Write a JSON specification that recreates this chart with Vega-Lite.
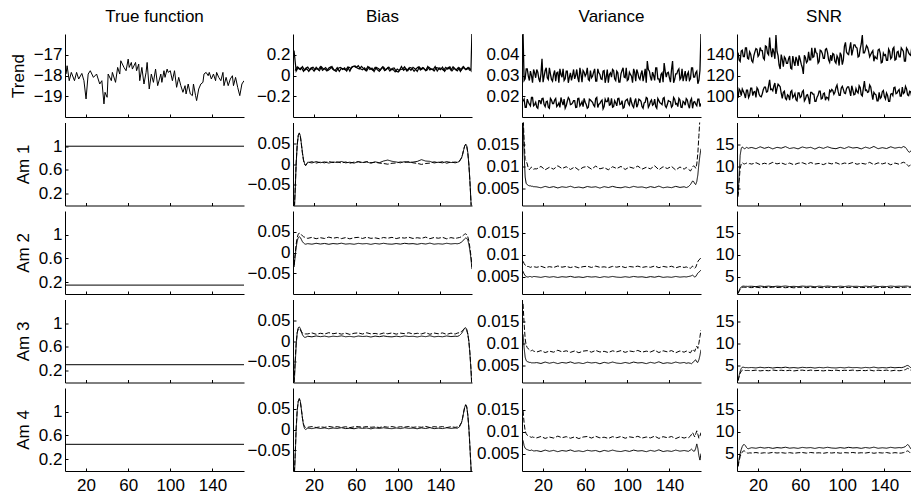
{
"$schema": "https://vega.github.io/schema/vega-lite/v6.json",
"padding": {"left": 9, "top": 8, "right": 0, "bottom": 0},
"config": {
  "view": {"stroke": null},
  "font": "Liberation Sans",
  "axis": {"grid": false, "domainColor": "#000", "tickColor": "#000", "labelColor": "#000", "titleColor": "#000", "labelFontSize": 17, "titleFontSize": 17, "titleFontWeight": "normal", "tickSize": -3, "labelPadding": 6, "labelFont": "Liberation Sans", "titleFont": "Liberation Sans", "titlePadding": 6},
  "axisX": {"labelPadding": 9},
  "title": {"fontSize": 17, "fontWeight": "normal", "font": "Liberation Sans", "color": "#000", "offset": 8},
  "line": {"color": "#000", "strokeWidth": 1}
},
"datasets": {
  "tf": [{"x":1,"y":-17.93},{"x":2,"y":-17.53},{"x":4,"y":-18.25},{"x":6,"y":-17.85},{"x":9,"y":-18.25},{"x":11,"y":-17.85},{"x":13,"y":-18.17},{"x":16,"y":-17.9},{"x":18,"y":-18.25},{"x":20,"y":-19.13},{"x":22,"y":-17.93},{"x":24,"y":-17.77},{"x":27,"y":-18.09},{"x":30,"y":-17.93},{"x":33,"y":-18.41},{"x":35,"y":-18.25},{"x":37,"y":-19.37},{"x":38,"y":-18.81},{"x":40,"y":-19.05},{"x":41,"y":-17.93},{"x":44,"y":-18.25},{"x":45,"y":-17.85},{"x":48,"y":-18.33},{"x":50,"y":-17.61},{"x":52,"y":-17.93},{"x":53,"y":-17.29},{"x":56,"y":-17.61},{"x":58,"y":-17.77},{"x":60,"y":-17.21},{"x":61,"y":-17.61},{"x":63,"y":-17.37},{"x":64,"y":-17.69},{"x":67,"y":-17.37},{"x":68,"y":-17.77},{"x":70,"y":-17.45},{"x":71,"y":-18.25},{"x":73,"y":-17.61},{"x":75,"y":-18.41},{"x":77,"y":-17.85},{"x":78,"y":-17.37},{"x":80,"y":-18.65},{"x":82,"y":-17.93},{"x":84,"y":-18.33},{"x":86,"y":-17.69},{"x":88,"y":-18.49},{"x":91,"y":-17.93},{"x":92,"y":-18.33},{"x":94,"y":-17.77},{"x":95,"y":-18.09},{"x":97,"y":-17.69},{"x":98,"y":-17.85},{"x":100,"y":-17.77},{"x":102,"y":-18.25},{"x":104,"y":-17.77},{"x":106,"y":-18.57},{"x":108,"y":-18.09},{"x":110,"y":-18.49},{"x":112,"y":-18.81},{"x":114,"y":-18.49},{"x":115,"y":-18.89},{"x":117,"y":-18.41},{"x":119,"y":-18.89},{"x":121,"y":-18.97},{"x":122,"y":-18.41},{"x":124,"y":-18.97},{"x":125,"y":-19.21},{"x":127,"y":-18.65},{"x":129,"y":-18.41},{"x":131,"y":-18.33},{"x":132,"y":-17.93},{"x":134,"y":-17.85},{"x":136,"y":-18.01},{"x":137,"y":-17.85},{"x":139,"y":-18.17},{"x":141,"y":-17.93},{"x":143,"y":-18.25},{"x":144,"y":-17.85},{"x":146,"y":-18.09},{"x":148,"y":-18.25},{"x":150,"y":-17.85},{"x":151,"y":-18.49},{"x":153,"y":-18.09},{"x":155,"y":-18.49},{"x":157,"y":-18.17},{"x":159,"y":-18.01},{"x":160,"y":-18.49},{"x":162,"y":-18.09},{"x":164,"y":-18.57},{"x":166,"y":-18.97},{"x":168,"y":-18.41},{"x":170,"y":-18.25}],
  "am": [{"x":0,"a1":1,"a2":0.15,"a3":0.3,"a4":0.45},{"x":170,"a1":1,"a2":0.15,"a3":0.3,"a4":0.45}],
  "tb": [{"x":1,"y":0.24,"s":"a"},{"x":3,"y":0.0426,"s":"a"},{"x":5,"y":0.0783,"s":"a"},{"x":7,"y":0.0579,"s":"a"},{"x":9,"y":0.086,"s":"a"},{"x":11,"y":0.0503,"s":"a"},{"x":13,"y":0.0656,"s":"a"},{"x":15,"y":0.04,"s":"a"},{"x":17,"y":0.0732,"s":"a"},{"x":19,"y":0.0809,"s":"a"},{"x":21,"y":0.0554,"s":"a"},{"x":23,"y":0.0681,"s":"a"},{"x":25,"y":0.0452,"s":"a"},{"x":27,"y":0.0834,"s":"a"},{"x":29,"y":0.0605,"s":"a"},{"x":31,"y":0.0758,"s":"a"},{"x":33,"y":0.0477,"s":"a"},{"x":35,"y":0.063,"s":"a"},{"x":37,"y":0.086,"s":"a"},{"x":39,"y":0.0528,"s":"a"},{"x":41,"y":0.04,"s":"a"},{"x":43,"y":0.0707,"s":"a"},{"x":45,"y":0.0783,"s":"a"},{"x":47,"y":0.0579,"s":"a"},{"x":49,"y":0.0732,"s":"a"},{"x":51,"y":0.0426,"s":"a"},{"x":53,"y":0.0809,"s":"a"},{"x":55,"y":0.0673,"s":"a"},{"x":57,"y":0.0851,"s":"a"},{"x":59,"y":0.092,"s":"a"},{"x":61,"y":0.0724,"s":"a"},{"x":63,"y":0.0622,"s":"a"},{"x":65,"y":0.088,"s":"a"},{"x":67,"y":0.0656,"s":"a"},{"x":69,"y":0.0477,"s":"a"},{"x":71,"y":0.086,"s":"a"},{"x":73,"y":0.0579,"s":"a"},{"x":75,"y":0.0707,"s":"a"},{"x":77,"y":0.0375,"s":"a"},{"x":79,"y":0.0783,"s":"a"},{"x":81,"y":0.0681,"s":"a"},{"x":83,"y":0.0528,"s":"a"},{"x":85,"y":0.0834,"s":"a"},{"x":87,"y":0.0477,"s":"a"},{"x":89,"y":0.063,"s":"a"},{"x":91,"y":0.0809,"s":"a"},{"x":93,"y":0.0554,"s":"a"},{"x":95,"y":0.0596,"s":"a"},{"x":97,"y":0.035,"s":"a"},{"x":99,"y":0.0622,"s":"a"},{"x":101,"y":0.0469,"s":"a"},{"x":103,"y":0.086,"s":"a"},{"x":105,"y":0.0503,"s":"a"},{"x":107,"y":0.0681,"s":"a"},{"x":109,"y":0.0452,"s":"a"},{"x":111,"y":0.0783,"s":"a"},{"x":113,"y":0.0707,"s":"a"},{"x":115,"y":0.04,"s":"a"},{"x":117,"y":0.0656,"s":"a"},{"x":119,"y":0.0834,"s":"a"},{"x":121,"y":0.0528,"s":"a"},{"x":123,"y":0.0758,"s":"a"},{"x":125,"y":0.0579,"s":"a"},{"x":127,"y":0.0477,"s":"a"},{"x":129,"y":0.0809,"s":"a"},{"x":131,"y":0.063,"s":"a"},{"x":133,"y":0.0554,"s":"a"},{"x":135,"y":0.086,"s":"a"},{"x":137,"y":0.0426,"s":"a"},{"x":139,"y":0.0732,"s":"a"},{"x":141,"y":0.0681,"s":"a"},{"x":143,"y":0.0503,"s":"a"},{"x":145,"y":0.0783,"s":"a"},{"x":147,"y":0.0605,"s":"a"},{"x":149,"y":0.0834,"s":"a"},{"x":151,"y":0.0452,"s":"a"},{"x":153,"y":0.0707,"s":"a"},{"x":155,"y":0.0528,"s":"a"},{"x":157,"y":0.0758,"s":"a"},{"x":159,"y":0.04,"s":"a"},{"x":161,"y":0.0809,"s":"a"},{"x":163,"y":0.0656,"s":"a"},{"x":165,"y":0.0579,"s":"a"},{"x":167,"y":0.0783,"s":"a"},{"x":169,"y":0.0477,"s":"a"},{"x":170,"y":0.45,"s":"a"},
    {"x":2,"y":0.0477,"s":"b"},{"x":4,"y":0.0834,"s":"b"},{"x":6,"y":0.0605,"s":"b"},{"x":8,"y":0.0758,"s":"b"},{"x":10,"y":0.04,"s":"b"},{"x":12,"y":0.0707,"s":"b"},{"x":14,"y":0.0809,"s":"b"},{"x":16,"y":0.0528,"s":"b"},{"x":18,"y":0.0681,"s":"b"},{"x":20,"y":0.0426,"s":"b"},{"x":22,"y":0.0783,"s":"b"},{"x":24,"y":0.0554,"s":"b"},{"x":26,"y":0.086,"s":"b"},{"x":28,"y":0.0503,"s":"b"},{"x":30,"y":0.0656,"s":"b"},{"x":32,"y":0.0452,"s":"b"},{"x":34,"y":0.0732,"s":"b"},{"x":36,"y":0.0834,"s":"b"},{"x":38,"y":0.0579,"s":"b"},{"x":40,"y":0.0477,"s":"b"},{"x":42,"y":0.0758,"s":"b"},{"x":44,"y":0.04,"s":"b"},{"x":46,"y":0.0707,"s":"b"},{"x":48,"y":0.063,"s":"b"},{"x":50,"y":0.0528,"s":"b"},{"x":52,"y":0.0809,"s":"b"},{"x":54,"y":0.0426,"s":"b"},{"x":56,"y":0.0851,"s":"b"},{"x":58,"y":0.09,"s":"b"},{"x":60,"y":0.0775,"s":"b"},{"x":62,"y":0.094,"s":"b"},{"x":64,"y":0.0647,"s":"b"},{"x":66,"y":0.0554,"s":"b"},{"x":68,"y":0.0732,"s":"b"},{"x":70,"y":0.0452,"s":"b"},{"x":72,"y":0.0834,"s":"b"},{"x":74,"y":0.0656,"s":"b"},{"x":76,"y":0.0503,"s":"b"},{"x":78,"y":0.0783,"s":"b"},{"x":80,"y":0.0579,"s":"b"},{"x":82,"y":0.04,"s":"b"},{"x":84,"y":0.0707,"s":"b"},{"x":86,"y":0.0809,"s":"b"},{"x":88,"y":0.0528,"s":"b"},{"x":90,"y":0.0758,"s":"b"},{"x":92,"y":0.0426,"s":"b"},{"x":94,"y":0.0681,"s":"b"},{"x":96,"y":0.0724,"s":"b"},{"x":98,"y":0.0418,"s":"b"},{"x":100,"y":0.0341,"s":"b"},{"x":102,"y":0.0596,"s":"b"},{"x":104,"y":0.0605,"s":"b"},{"x":106,"y":0.0834,"s":"b"},{"x":108,"y":0.0452,"s":"b"},{"x":110,"y":0.0707,"s":"b"},{"x":112,"y":0.0503,"s":"b"},{"x":114,"y":0.0783,"s":"b"},{"x":116,"y":0.063,"s":"b"},{"x":118,"y":0.04,"s":"b"},{"x":120,"y":0.0809,"s":"b"},{"x":122,"y":0.0579,"s":"b"},{"x":124,"y":0.0732,"s":"b"},{"x":126,"y":0.0477,"s":"b"},{"x":128,"y":0.086,"s":"b"},{"x":130,"y":0.0528,"s":"b"},{"x":132,"y":0.0656,"s":"b"},{"x":134,"y":0.0426,"s":"b"},{"x":136,"y":0.0758,"s":"b"},{"x":138,"y":0.0707,"s":"b"},{"x":140,"y":0.0554,"s":"b"},{"x":142,"y":0.0809,"s":"b"},{"x":144,"y":0.04,"s":"b"},{"x":146,"y":0.0681,"s":"b"},{"x":148,"y":0.0783,"s":"b"},{"x":150,"y":0.0503,"s":"b"},{"x":152,"y":0.0834,"s":"b"},{"x":154,"y":0.0605,"s":"b"},{"x":156,"y":0.0452,"s":"b"},{"x":158,"y":0.0732,"s":"b"},{"x":160,"y":0.0528,"s":"b"},{"x":162,"y":0.086,"s":"b"},{"x":164,"y":0.0579,"s":"b"},{"x":166,"y":0.0758,"s":"b"},{"x":168,"y":0.0477,"s":"b"}],
  "tr": [{"x":1,"vu":0.05,"vl":0.0176,"su":142,"sl":98.3},{"x":3,"vu":0.0284,"vl":0.0146,"su":133.5,"sl":105.3},{"x":5,"vu":0.0332,"vl":0.0186,"su":144.4,"sl":107},{"x":7,"vu":0.0276,"vl":0.0162,"su":138.1,"sl":102.3},{"x":9,"vu":0.03,"vl":0.0194,"su":146.7,"sl":105.8},{"x":11,"vu":0.0329,"vl":0.0154,"su":135.8,"sl":98.8},{"x":13,"vu":0.0289,"vl":0.0171,"su":140.5,"sl":107.7},{"x":15,"vu":0.0316,"vl":0.0142,"su":132.7,"sl":100.6},{"x":17,"vu":0.0268,"vl":0.0179,"su":142.8,"sl":104.7},{"x":19,"vu":0.038,"vl":0.0189,"su":145.2,"sl":108.2},{"x":21,"vu":0.0297,"vl":0.016,"su":140,"sl":101.8},{"x":23,"vu":0.0337,"vl":0.0174,"su":143.9,"sl":99.5},{"x":25,"vu":0.0281,"vl":0.0147,"su":136.8,"sl":106.5},{"x":27,"vu":0.0308,"vl":0.019,"su":148.5,"sl":108.7},{"x":29,"vu":0.0273,"vl":0.0165,"su":141.5,"sl":104.5},{"x":31,"vu":0.0324,"vl":0.0182,"su":156.6,"sl":115.9},{"x":33,"vu":0.0313,"vl":0.015,"su":137.6,"sl":106.9},{"x":35,"vu":0.0265,"vl":0.0168,"su":142.3,"sl":109.9},{"x":37,"vu":0.0305,"vl":0.0194,"su":159,"sl":102.2},{"x":39,"vu":0.0332,"vl":0.0157,"su":139.2,"sl":111.6},{"x":41,"vu":0.0284,"vl":0.0142,"su":126.2,"sl":109.2},{"x":43,"vu":0.0321,"vl":0.0176,"su":135.5,"sl":97.9},{"x":45,"vu":0.0292,"vl":0.0186,"su":137.9,"sl":104.9},{"x":47,"vu":0.0276,"vl":0.0162,"su":131.6,"sl":96.7},{"x":49,"vu":0.0329,"vl":0.0179,"su":136.3,"sl":100.3},{"x":51,"vu":0.03,"vl":0.0146,"su":127,"sl":104.4},{"x":53,"vu":0.0289,"vl":0.0189,"su":138.7,"sl":98.6},{"x":55,"vu":0.0337,"vl":0.0154,"su":129.3,"sl":102.6},{"x":57,"vu":0.0268,"vl":0.0174,"su":134.8,"sl":95.6},{"x":59,"vu":0.0316,"vl":0.019,"su":139.4,"sl":103.2},{"x":61,"vu":0.0308,"vl":0.016,"su":130.9,"sl":99.7},{"x":63,"vu":0.0281,"vl":0.0147,"su":121.5,"sl":105.6},{"x":65,"vu":0.0324,"vl":0.0182,"su":137.1,"sl":97.4},{"x":67,"vu":0.0297,"vl":0.0171,"su":134,"sl":101.4},{"x":69,"vu":0.0332,"vl":0.015,"su":135,"sl":92.5},{"x":71,"vu":0.0273,"vl":0.0194,"su":146.7,"sl":103.8},{"x":73,"vu":0.0313,"vl":0.0162,"su":138.1,"sl":102.1},{"x":75,"vu":0.0284,"vl":0.0176,"su":142,"sl":95.1},{"x":77,"vu":0.0321,"vl":0.0139,"su":131.9,"sl":100.9},{"x":79,"vu":0.0265,"vl":0.0186,"su":144.4,"sl":104.9},{"x":81,"vu":0.0329,"vl":0.0174,"su":141.3,"sl":97.9},{"x":83,"vu":0.0305,"vl":0.0157,"su":136.6,"sl":103.2},{"x":85,"vu":0.0292,"vl":0.019,"su":145.9,"sl":99.1},{"x":87,"vu":0.0324,"vl":0.015,"su":135,"sl":96.7},{"x":89,"vu":0.0276,"vl":0.0168,"su":139.7,"sl":104.4},{"x":91,"vu":0.0313,"vl":0.0189,"su":141.3,"sl":105.5},{"x":93,"vu":0.0268,"vl":0.016,"su":133.5,"sl":103.8},{"x":95,"vu":0.0324,"vl":0.0179,"su":138.9,"sl":110.8},{"x":97,"vu":0.0292,"vl":0.0146,"su":129.6,"sl":100.8},{"x":99,"vu":0.0337,"vl":0.0182,"su":139.7,"sl":107.8},{"x":101,"vu":0.0281,"vl":0.0165,"su":135,"sl":106.6},{"x":103,"vu":0.0305,"vl":0.0194,"su":151.9,"sl":102.6},{"x":105,"vu":0.0265,"vl":0.0154,"su":141,"sl":109},{"x":107,"vu":0.0316,"vl":0.0174,"su":146.5,"sl":104.9},{"x":109,"vu":0.0329,"vl":0.0147,"su":139.4,"sl":110.1},{"x":111,"vu":0.0289,"vl":0.0186,"su":149.6,"sl":101.4},{"x":113,"vu":0.0308,"vl":0.0176,"su":147.2,"sl":107.3},{"x":115,"vu":0.0273,"vl":0.0142,"su":137.9,"sl":103.1},{"x":117,"vu":0.0332,"vl":0.0171,"su":145.7,"sl":108.4},{"x":119,"vu":0.037,"vl":0.019,"su":159,"sl":100.3},{"x":121,"vu":0.0321,"vl":0.0157,"su":141.8,"sl":114.6},{"x":123,"vu":0.0276,"vl":0.0182,"su":148.8,"sl":106.1},{"x":125,"vu":0.03,"vl":0.0162,"su":143.3,"sl":104.3},{"x":127,"vu":0.0337,"vl":0.015,"su":140.2,"sl":109},{"x":129,"vu":0.0284,"vl":0.0189,"su":143.9,"sl":96.7},{"x":131,"vu":0.0265,"vl":0.0168,"su":138.4,"sl":102.1},{"x":133,"vu":0.0313,"vl":0.016,"su":136.1,"sl":95.6},{"x":135,"vu":0.036,"vl":0.0194,"su":145.4,"sl":103.8},{"x":137,"vu":0.0292,"vl":0.0146,"su":132.2,"sl":99.1},{"x":139,"vu":0.0316,"vl":0.0179,"su":141.5,"sl":105.6},{"x":141,"vu":0.0268,"vl":0.0174,"su":140,"sl":97.4},{"x":143,"vu":0.037,"vl":0.0154,"su":134.5,"sl":100.9},{"x":145,"vu":0.0281,"vl":0.0186,"su":143.1,"sl":95.1},{"x":147,"vu":0.0308,"vl":0.0165,"su":137.6,"sl":102.6},{"x":149,"vu":0.0332,"vl":0.019,"su":147.2,"sl":108.3},{"x":151,"vu":0.0289,"vl":0.0147,"su":135.5,"sl":102.5},{"x":153,"vu":0.0273,"vl":0.0176,"su":143.3,"sl":105.3},{"x":155,"vu":0.0321,"vl":0.0157,"su":137.9,"sl":100.1},{"x":157,"vu":0.0305,"vl":0.0182,"su":144.9,"sl":108.8},{"x":159,"vu":0.0276,"vl":0.0142,"su":134,"sl":103.6},{"x":161,"vu":0.0337,"vl":0.0189,"su":146.5,"sl":107.1},{"x":163,"vu":0.0292,"vl":0.0171,"su":141.8,"sl":100.6},{"x":165,"vu":0.0313,"vl":0.0162,"su":139.4,"sl":104.2},{"x":167,"vu":0.026,"vl":0.0186,"su":145.7,"sl":109.5},{"x":169,"vu":0.0324,"vl":0.015,"su":136.1,"sl":101.8},{"x":170,"vu":0.05,"vl":0.0165,"su":141,"sl":104},
    {"x":2,"vu":0.0276,"vl":0.0186,"su":135,"sl":107},{"x":4,"vu":0.0332,"vl":0.0146,"su":143.6,"sl":100.6},{"x":6,"vu":0.0297,"vl":0.0171,"su":138.1,"sl":104.7},{"x":8,"vu":0.0321,"vl":0.0154,"su":146.7,"sl":98.3},{"x":10,"vu":0.0265,"vl":0.0194,"su":136.6,"sl":105.8},{"x":12,"vu":0.0313,"vl":0.016,"su":142.8,"sl":101.2},{"x":14,"vu":0.0329,"vl":0.0147,"su":134.2,"sl":107.7},{"x":16,"vu":0.0284,"vl":0.0179,"su":138.9,"sl":104.2},{"x":18,"vu":0.0308,"vl":0.0162,"su":145.9,"sl":98.8},{"x":20,"vu":0.0268,"vl":0.019,"su":138.4,"sl":106.5},{"x":22,"vu":0.0324,"vl":0.015,"su":147,"sl":100},{"x":24,"vu":0.0289,"vl":0.0176,"su":143.9,"sl":102.3},{"x":26,"vu":0.0337,"vl":0.0142,"su":135.3,"sl":108.8},{"x":28,"vu":0.0281,"vl":0.0182,"su":147.8,"sl":104},{"x":30,"vu":0.0305,"vl":0.0165,"su":140,"sl":109.9},{"x":32,"vu":0.0273,"vl":0.0189,"su":144.6,"sl":106.4},{"x":34,"vu":0.0316,"vl":0.0157,"su":146.2,"sl":105.2},{"x":36,"vu":0.0332,"vl":0.0146,"su":136.1,"sl":112.7},{"x":38,"vu":0.0292,"vl":0.0174,"su":143.1,"sl":107.5},{"x":40,"vu":0.0276,"vl":0.0186,"su":130.1,"sl":110.4},{"x":42,"vu":0.0321,"vl":0.0154,"su":140.2,"sl":102.9},{"x":44,"vu":0.0265,"vl":0.0194,"su":128.5,"sl":103.8},{"x":46,"vu":0.0313,"vl":0.016,"su":136.3,"sl":97.9},{"x":48,"vu":0.03,"vl":0.0168,"su":131.6,"sl":101.4},{"x":50,"vu":0.0284,"vl":0.0179,"su":138.7,"sl":96.2},{"x":52,"vu":0.0329,"vl":0.0147,"su":126.2,"sl":105.5},{"x":54,"vu":0.0268,"vl":0.019,"su":133.2,"sl":100.3},{"x":56,"vu":0.0308,"vl":0.0162,"su":137.9,"sl":96.7},{"x":58,"vu":0.0324,"vl":0.015,"su":129.3,"sl":103.2},{"x":60,"vu":0.0297,"vl":0.0171,"su":135.5,"sl":98.6},{"x":62,"vu":0.0337,"vl":0.0142,"su":127.7,"sl":104.4},{"x":64,"vu":0.0276,"vl":0.0186,"su":139.4,"sl":95.6},{"x":66,"vu":0.0289,"vl":0.0176,"su":132.4,"sl":100.9},{"x":68,"vu":0.0316,"vl":0.0157,"su":142.8,"sl":97.9},{"x":70,"vu":0.0273,"vl":0.0189,"su":135,"sl":103.8},{"x":72,"vu":0.0332,"vl":0.0146,"su":137.4,"sl":102.1},{"x":74,"vu":0.0305,"vl":0.0165,"su":146.7,"sl":95.1},{"x":76,"vu":0.0281,"vl":0.0182,"su":141.3,"sl":99.1},{"x":78,"vu":0.0324,"vl":0.015,"su":133.5,"sl":104.9},{"x":80,"vu":0.0292,"vl":0.0174,"su":143.6,"sl":97.4},{"x":82,"vu":0.0265,"vl":0.0194,"su":136.6,"sl":102.6},{"x":84,"vu":0.0313,"vl":0.016,"su":145.2,"sl":96.2},{"x":86,"vu":0.0329,"vl":0.0147,"su":142,"sl":98.6},{"x":88,"vu":0.0284,"vl":0.0179,"su":132.7,"sl":105.6},{"x":90,"vu":0.0321,"vl":0.0154,"su":134.2,"sl":106.6},{"x":92,"vu":0.0268,"vl":0.019,"su":140.5,"sl":101.9},{"x":94,"vu":0.0308,"vl":0.0162,"su":131.9,"sl":108.4},{"x":96,"vu":0.0337,"vl":0.0142,"su":136.6,"sl":104.9},{"x":98,"vu":0.0289,"vl":0.0176,"su":142,"sl":100.8},{"x":100,"vu":0.0276,"vl":0.0186,"su":130.4,"sl":109.6},{"x":102,"vu":0.0316,"vl":0.0157,"su":148,"sl":103.1},{"x":104,"vu":0.0297,"vl":0.0171,"su":142.6,"sl":107.3},{"x":106,"vu":0.0332,"vl":0.0146,"su":140.2,"sl":109},{"x":108,"vu":0.0273,"vl":0.0189,"su":151.9,"sl":100.3},{"x":110,"vu":0.0313,"vl":0.016,"su":144.1,"sl":106.1},{"x":112,"vu":0.0281,"vl":0.0182,"su":149.6,"sl":101.9},{"x":114,"vu":0.0324,"vl":0.015,"su":146.5,"sl":104.3},{"x":116,"vu":0.03,"vl":0.0168,"su":138.7,"sl":110.1},{"x":118,"vu":0.0265,"vl":0.0194,"su":150.4,"sl":101.4},{"x":120,"vu":0.0329,"vl":0.0147,"su":141.8,"sl":107.8},{"x":122,"vu":0.0292,"vl":0.0174,"su":144.9,"sl":105.5},{"x":124,"vu":0.0316,"vl":0.0157,"su":147.2,"sl":103.8},{"x":126,"vu":0.0276,"vl":0.0186,"su":137.9,"sl":110.8},{"x":128,"vu":0.0337,"vl":0.0142,"su":142.3,"sl":102.6},{"x":130,"vu":0.0284,"vl":0.0179,"su":133.7,"sl":103.8},{"x":132,"vu":0.0305,"vl":0.0165,"su":136.8,"sl":101.4},{"x":134,"vu":0.0268,"vl":0.019,"su":144.6,"sl":95.6},{"x":136,"vu":0.0321,"vl":0.0154,"su":141.5,"sl":97.9},{"x":138,"vu":0.0313,"vl":0.016,"su":132.9,"sl":104.4},{"x":140,"vu":0.0289,"vl":0.0176,"su":139.2,"sl":99.7},{"x":142,"vu":0.0329,"vl":0.0147,"su":134.5,"sl":103.2},{"x":144,"vu":0.0265,"vl":0.0194,"su":145.4,"sl":95.1},{"x":146,"vu":0.0308,"vl":0.0162,"su":136.1,"sl":102.1},{"x":148,"vu":0.0324,"vl":0.015,"su":145.7,"sl":100.6},{"x":150,"vu":0.0281,"vl":0.0182,"su":134.8,"sl":108.8},{"x":152,"vu":0.0332,"vl":0.0146,"su":142.6,"sl":103},{"x":154,"vu":0.0297,"vl":0.0171,"su":137.9,"sl":106.5},{"x":156,"vu":0.0273,"vl":0.0189,"su":146.5,"sl":100.1},{"x":158,"vu":0.0316,"vl":0.0157,"su":143.3,"sl":102.5},{"x":160,"vu":0.0284,"vl":0.0179,"su":134,"sl":109.5},{"x":162,"vu":0.0337,"vl":0.0142,"su":144.9,"sl":101.3},{"x":164,"vu":0.0292,"vl":0.0174,"su":140.2,"sl":104.8},{"x":166,"vu":0.0321,"vl":0.0154,"su":147.2,"sl":99.5},{"x":168,"vu":0.0276,"vl":0.0186,"su":136.1,"sl":107.7}],
  "r2": [{"x":1,"ba":-0.13,"bb":-0.12,"va":0.021,"vb":0.022,"sa":3.5,"sb":3},{"x":2,"ba":-0.07,"bb":-0.065,"va":0.013,"vb":0.016,"sa":8,"sb":6.5},{"x":3,"ba":0,"bb":0.003,"va":0.0075,"vb":0.0115,"sa":12.5,"sb":9.5},{"x":4,"ba":0.045,"bb":0.047,"va":0.006,"vb":0.0112,"sa":14,"sb":10.5},{"x":5,"ba":0.068,"bb":0.069,"va":0.0058,"vb":0.0105,"sa":14.4,"sb":10.8},{"x":6,"ba":0.075,"bb":0.074,"va":0.0056,"vb":0.0095,"sa":14.2,"sb":10.6},{"x":7,"ba":0.068,"bb":0.066,"va":0.0055,"vb":0.0092,"sa":14,"sb":10.5},{"x":8,"ba":0.048,"bb":0.046,"va":0.0055,"vb":0.0095,"sa":14.1,"sb":10.6},{"x":9,"ba":0.027,"bb":0.025,"va":0.0054,"vb":0.0098,"sa":14.3,"sb":10.7},{"x":10,"ba":0.01,"bb":0.008,"va":0.0054,"vb":0.0096,"sa":14.2,"sb":10.6},{"x":11,"ba":0.001,"bb":-0.001,"va":0.0053,"vb":0.0093,"sa":14.1,"sb":10.5},{"x":12,"ba":-0.003,"bb":-0.004,"va":0.0053,"vb":0.0094,"sa":14.2,"sb":10.6},
    {"x":14,"ba":0.0046,"bb":0.0031,"va":0.00526,"vb":0.00939,"sa":14.28,"sb":10.48},{"x":18,"ba":0.0025,"bb":0.0055,"va":0.00505,"vb":0.00995,"sa":14,"sb":10.8},{"x":22,"ba":0.0058,"bb":0.0022,"va":0.00538,"vb":0.00918,"sa":14.44,"sb":10.36},{"x":26,"ba":0.0031,"bb":0.0046,"va":0.00511,"vb":0.00974,"sa":14.08,"sb":10.68},{"x":30,"ba":0.0052,"bb":0.0028,"va":0.00532,"vb":0.00932,"sa":14.36,"sb":10.44},{"x":34,"ba":0.0022,"bb":0.0061,"va":0.00502,"vb":0.01009,"sa":13.96,"sb":10.88},{"x":38,"ba":0.0049,"bb":0.0034,"va":0.00529,"vb":0.00946,"sa":14.32,"sb":10.52},{"x":42,"ba":0.0034,"bb":0.0052,"va":0.00514,"vb":0.00988,"sa":14.12,"sb":10.76},{"x":46,"ba":0.0061,"bb":0.0025,"va":0.00541,"vb":0.00925,"sa":14.48,"sb":10.4},{"x":50,"ba":0.0028,"bb":0.0049,"va":0.00508,"vb":0.00981,"sa":14.04,"sb":10.72},{"x":54,"ba":0.0043,"bb":0.0019,"va":0.00523,"vb":0.00911,"sa":14.24,"sb":10.32},{"x":58,"ba":0.0022,"bb":0.0046,"va":0.00502,"vb":0.00974,"sa":13.96,"sb":10.68},{"x":62,"ba":0.0055,"bb":0.0055,"va":0.00535,"vb":0.00995,"sa":14.4,"sb":10.8},{"x":66,"ba":0.0037,"bb":0.0028,"va":0.00517,"vb":0.00932,"sa":14.16,"sb":10.44},{"x":70,"ba":0.0049,"bb":0.0058,"va":0.00529,"vb":0.01002,"sa":14.32,"sb":10.84},{"x":74,"ba":0.0019,"bb":0.0031,"va":0.00499,"vb":0.00939,"sa":13.92,"sb":10.48},{"x":78,"ba":0.0052,"bb":0.0043,"va":0.00532,"vb":0.00967,"sa":14.36,"sb":10.64},{"x":82,"ba":0.0031,"bb":0.0022,"va":0.00511,"vb":0.00918,"sa":14.08,"sb":10.36},{"x":86,"ba":0.0072,"bb":0.0012,"va":0.00538,"vb":0.00988,"sa":14.44,"sb":10.76},{"x":90,"ba":0.0095,"bb":-0.0005,"va":0.00514,"vb":0.00946,"sa":14.12,"sb":10.52},{"x":94,"ba":0.0065,"bb":0.0018,"va":0.00505,"vb":0.00995,"sa":14,"sb":10.8},{"x":98,"ba":0.0049,"bb":0.0025,"va":0.00529,"vb":0.00925,"sa":14.32,"sb":10.4},{"x":102,"ba":0.0028,"bb":0.0049,"va":0.00508,"vb":0.00981,"sa":14.04,"sb":10.72},{"x":106,"ba":0.0058,"bb":0.0037,"va":0.00538,"vb":0.00953,"sa":14.44,"sb":10.56},{"x":110,"ba":0.0037,"bb":0.0058,"va":0.00517,"vb":0.01002,"sa":14.16,"sb":10.84},{"x":114,"ba":0.0046,"bb":0.0028,"va":0.00526,"vb":0.00932,"sa":14.28,"sb":10.44},{"x":118,"ba":0.0062,"bb":0.0015,"va":0.00502,"vb":0.00974,"sa":13.96,"sb":10.68},{"x":122,"ba":0.0105,"bb":-0.001,"va":0.00532,"vb":0.00939,"sa":14.36,"sb":10.48},{"x":126,"ba":0.0071,"bb":0.0012,"va":0.00511,"vb":0.01009,"sa":14.08,"sb":10.88},{"x":130,"ba":0.0064,"bb":0.0022,"va":0.00544,"vb":0.00918,"sa":14.52,"sb":10.36},{"x":134,"ba":0.0025,"bb":0.0052,"va":0.00505,"vb":0.00988,"sa":14,"sb":10.76},{"x":138,"ba":0.0043,"bb":0.0034,"va":0.00523,"vb":0.00946,"sa":14.24,"sb":10.52},{"x":142,"ba":0.0028,"bb":0.0055,"va":0.00508,"vb":0.00995,"sa":14.04,"sb":10.8},{"x":146,"ba":0.0058,"bb":0.0019,"va":0.00538,"vb":0.00911,"sa":14.44,"sb":10.32},{"x":150,"ba":0.0034,"bb":0.0049,"va":0.00514,"vb":0.00981,"sa":14.12,"sb":10.72},{"x":154,"ba":0.0049,"bb":0.0028,"va":0.00529,"vb":0.00932,"sa":14.32,"sb":10.44},
    {"x":156,"ba":0.004,"bb":0.004,"va":0.0051,"vb":0.0097,"sa":14.2,"sb":10.7},{"x":158,"ba":0.006,"bb":0.007,"va":0.0053,"vb":0.0093,"sa":14.5,"sb":10.9},{"x":160,"ba":0.014,"bb":0.015,"va":0.0058,"vb":0.0089,"sa":14.3,"sb":10.7},{"x":161,"ba":0.022,"bb":0.023,"va":0.0062,"vb":0.0093,"sa":14,"sb":10.5},{"x":162,"ba":0.033,"bb":0.034,"va":0.0066,"vb":0.0098,"sa":13.6,"sb":10.2},{"x":163,"ba":0.043,"bb":0.043,"va":0.0065,"vb":0.0101,"sa":13.3,"sb":10},{"x":164,"ba":0.048,"bb":0.047,"va":0.006,"vb":0.0099,"sa":13.2,"sb":10.1},{"x":165,"ba":0.044,"bb":0.043,"va":0.0058,"vb":0.0095,"sa":13.4,"sb":10.4},{"x":166,"ba":0.028,"bb":0.027,"va":0.0065,"vb":0.0105,"sa":13.8,"sb":10.6},{"x":167,"ba":0,"bb":0,"va":0.008,"vb":0.013,"sa":14.1,"sb":10.7},{"x":168,"ba":-0.04,"bb":-0.04,"va":0.0105,"vb":0.017,"sa":14.2,"sb":10.6},{"x":169,"ba":-0.09,"bb":-0.09,"va":0.0125,"vb":0.021,"sa":14.1,"sb":10.5},{"x":170,"ba":-0.14,"bb":-0.14,"va":0.014,"vb":0.025,"sa":14,"sb":10.4}],
  "r3": [{"x":1,"ba":-0.035,"bb":-0.03,"va":0.0062,"vb":0.0085,"sa":1.2,"sb":1.1},{"x":2,"ba":-0.01,"bb":-0.005,"va":0.0056,"vb":0.008,"sa":1.8,"sb":1.6},{"x":3,"ba":0.012,"bb":0.02,"va":0.0052,"vb":0.0076,"sa":2.3,"sb":2.05},{"x":4,"ba":0.028,"bb":0.036,"va":0.005,"vb":0.0074,"sa":2.6,"sb":2.35},{"x":5,"ba":0.036,"bb":0.044,"va":0.0049,"vb":0.0073,"sa":2.75,"sb":2.5},{"x":6,"ba":0.038,"bb":0.047,"va":0.0049,"vb":0.0073,"sa":2.8,"sb":2.55},{"x":7,"ba":0.036,"bb":0.046,"va":0.005,"vb":0.0072,"sa":2.78,"sb":2.53},{"x":8,"ba":0.031,"bb":0.043,"va":0.005,"vb":0.0071,"sa":2.75,"sb":2.5},{"x":9,"ba":0.026,"bb":0.04,"va":0.0049,"vb":0.0072,"sa":2.76,"sb":2.51},{"x":10,"ba":0.023,"bb":0.038,"va":0.0049,"vb":0.0073,"sa":2.74,"sb":2.49},{"x":11,"ba":0.021,"bb":0.037,"va":0.005,"vb":0.0073,"sa":2.75,"sb":2.5},{"x":12,"ba":0.02,"bb":0.036,"va":0.005,"vb":0.0072,"sa":2.77,"sb":2.48},
    {"x":14,"ba":0.0214,"bb":0.0341,"va":0.00494,"vb":0.00711,"sa":2.77,"sb":2.46},{"x":18,"ba":0.02,"bb":0.0365,"va":0.0048,"vb":0.00735,"sa":2.69,"sb":2.56},{"x":22,"ba":0.0222,"bb":0.0332,"va":0.00502,"vb":0.00702,"sa":2.82,"sb":2.43},{"x":26,"ba":0.0204,"bb":0.0356,"va":0.00484,"vb":0.00726,"sa":2.71,"sb":2.52},{"x":30,"ba":0.0218,"bb":0.0338,"va":0.00498,"vb":0.00708,"sa":2.8,"sb":2.45},{"x":34,"ba":0.0198,"bb":0.0371,"va":0.00478,"vb":0.00741,"sa":2.68,"sb":2.58},{"x":38,"ba":0.0216,"bb":0.0344,"va":0.00496,"vb":0.00714,"sa":2.79,"sb":2.48},{"x":42,"ba":0.0206,"bb":0.0362,"va":0.00486,"vb":0.00732,"sa":2.73,"sb":2.55},{"x":46,"ba":0.0224,"bb":0.0335,"va":0.00504,"vb":0.00705,"sa":2.83,"sb":2.44},{"x":50,"ba":0.0202,"bb":0.0359,"va":0.00482,"vb":0.00729,"sa":2.7,"sb":2.54},{"x":54,"ba":0.0212,"bb":0.0329,"va":0.00492,"vb":0.00699,"sa":2.76,"sb":2.42},{"x":58,"ba":0.0198,"bb":0.0356,"va":0.00478,"vb":0.00726,"sa":2.68,"sb":2.52},{"x":62,"ba":0.022,"bb":0.0365,"va":0.005,"vb":0.00735,"sa":2.81,"sb":2.56},{"x":66,"ba":0.0208,"bb":0.0338,"va":0.00488,"vb":0.00708,"sa":2.74,"sb":2.45},{"x":70,"ba":0.0216,"bb":0.0368,"va":0.00496,"vb":0.00738,"sa":2.79,"sb":2.57},{"x":74,"ba":0.0196,"bb":0.0341,"va":0.00476,"vb":0.00711,"sa":2.67,"sb":2.46},{"x":78,"ba":0.0218,"bb":0.0353,"va":0.00498,"vb":0.00723,"sa":2.8,"sb":2.51},{"x":82,"ba":0.0204,"bb":0.0332,"va":0.00484,"vb":0.00702,"sa":2.71,"sb":2.43},{"x":86,"ba":0.0222,"bb":0.0362,"va":0.00502,"vb":0.00732,"sa":2.82,"sb":2.55},{"x":90,"ba":0.0206,"bb":0.0344,"va":0.00486,"vb":0.00714,"sa":2.73,"sb":2.48},{"x":94,"ba":0.02,"bb":0.0365,"va":0.0048,"vb":0.00735,"sa":2.69,"sb":2.56},{"x":98,"ba":0.0216,"bb":0.0335,"va":0.00496,"vb":0.00705,"sa":2.79,"sb":2.44},{"x":102,"ba":0.0202,"bb":0.0359,"va":0.00482,"vb":0.00729,"sa":2.7,"sb":2.54},{"x":106,"ba":0.0222,"bb":0.0347,"va":0.00502,"vb":0.00717,"sa":2.82,"sb":2.49},{"x":110,"ba":0.0208,"bb":0.0368,"va":0.00488,"vb":0.00738,"sa":2.74,"sb":2.57},{"x":114,"ba":0.0214,"bb":0.0338,"va":0.00494,"vb":0.00708,"sa":2.77,"sb":2.45},{"x":118,"ba":0.0198,"bb":0.0356,"va":0.00478,"vb":0.00726,"sa":2.68,"sb":2.52},{"x":122,"ba":0.0218,"bb":0.0341,"va":0.00498,"vb":0.00711,"sa":2.8,"sb":2.46},{"x":126,"ba":0.0204,"bb":0.0371,"va":0.00484,"vb":0.00741,"sa":2.71,"sb":2.58},{"x":130,"ba":0.0226,"bb":0.0332,"va":0.00506,"vb":0.00702,"sa":2.85,"sb":2.43},{"x":134,"ba":0.02,"bb":0.0362,"va":0.0048,"vb":0.00732,"sa":2.69,"sb":2.55},{"x":138,"ba":0.0212,"bb":0.0344,"va":0.00492,"vb":0.00714,"sa":2.76,"sb":2.48},{"x":142,"ba":0.0202,"bb":0.0365,"va":0.00482,"vb":0.00735,"sa":2.7,"sb":2.56},{"x":146,"ba":0.0222,"bb":0.0329,"va":0.00502,"vb":0.00699,"sa":2.82,"sb":2.42},{"x":150,"ba":0.0206,"bb":0.0359,"va":0.00486,"vb":0.00729,"sa":2.73,"sb":2.54},{"x":154,"ba":0.0216,"bb":0.0338,"va":0.00496,"vb":0.00708,"sa":2.79,"sb":2.45},
    {"x":156,"ba":0.021,"bb":0.035,"va":0.0049,"vb":0.0072,"sa":2.75,"sb":2.5},{"x":158,"ba":0.022,"bb":0.036,"va":0.005,"vb":0.007,"sa":2.77,"sb":2.52},{"x":160,"ba":0.025,"bb":0.038,"va":0.0051,"vb":0.0069,"sa":2.8,"sb":2.55},{"x":161,"ba":0.027,"bb":0.04,"va":0.0052,"vb":0.0071,"sa":2.82,"sb":2.56},{"x":162,"ba":0.03,"bb":0.042,"va":0.0053,"vb":0.0074,"sa":2.8,"sb":2.54},{"x":163,"ba":0.033,"bb":0.044,"va":0.0051,"vb":0.0072,"sa":2.76,"sb":2.5},{"x":164,"ba":0.035,"bb":0.045,"va":0.0049,"vb":0.0069,"sa":2.73,"sb":2.47},{"x":165,"ba":0.034,"bb":0.043,"va":0.005,"vb":0.0071,"sa":2.75,"sb":2.49},{"x":166,"ba":0.03,"bb":0.038,"va":0.0054,"vb":0.0078,"sa":2.78,"sb":2.52},{"x":167,"ba":0.02,"bb":0.028,"va":0.0058,"vb":0.0084,"sa":2.8,"sb":2.54},{"x":168,"ba":0.005,"bb":0.012,"va":0.006,"vb":0.0088,"sa":2.78,"sb":2.52},{"x":169,"ba":-0.015,"bb":-0.008,"va":0.0062,"vb":0.009,"sa":2.76,"sb":2.5},{"x":170,"ba":-0.04,"bb":-0.035,"va":0.0065,"vb":0.0093,"sa":2.75,"sb":2.49}],
  "r4": [{"x":1,"ba":-0.11,"bb":-0.1,"va":0.012,"vb":0.019,"sa":1.5,"sb":1.4},{"x":2,"ba":-0.06,"bb":-0.05,"va":0.009,"vb":0.0145,"sa":2.6,"sb":2.3},{"x":3,"ba":-0.01,"bb":-0.005,"va":0.0068,"vb":0.011,"sa":3.6,"sb":3.1},{"x":4,"ba":0.02,"bb":0.02,"va":0.006,"vb":0.0095,"sa":4.2,"sb":3.6},{"x":5,"ba":0.032,"bb":0.029,"va":0.0058,"vb":0.009,"sa":4.5,"sb":3.8},{"x":6,"ba":0.034,"bb":0.03,"va":0.0057,"vb":0.0087,"sa":4.5,"sb":3.82},{"x":7,"ba":0.03,"bb":0.027,"va":0.0056,"vb":0.0085,"sa":4.45,"sb":3.78},{"x":8,"ba":0.022,"bb":0.022,"va":0.0056,"vb":0.0082,"sa":4.4,"sb":3.75},{"x":9,"ba":0.015,"bb":0.019,"va":0.0055,"vb":0.0083,"sa":4.42,"sb":3.74},{"x":10,"ba":0.011,"bb":0.018,"va":0.0055,"vb":0.0084,"sa":4.4,"sb":3.76},{"x":11,"ba":0.009,"bb":0.017,"va":0.0055,"vb":0.0082,"sa":4.38,"sb":3.74},{"x":12,"ba":0.009,"bb":0.017,"va":0.0055,"vb":0.0081,"sa":4.41,"sb":3.73},
    {"x":14,"ba":0.0114,"bb":0.0171,"va":0.00556,"vb":0.00798,"sa":4.43,"sb":3.71},{"x":18,"ba":0.01,"bb":0.0195,"va":0.00535,"vb":0.0083,"sa":4.33,"sb":3.83},{"x":22,"ba":0.0122,"bb":0.0162,"va":0.00568,"vb":0.00786,"sa":4.49,"sb":3.66},{"x":26,"ba":0.0104,"bb":0.0186,"va":0.00541,"vb":0.00818,"sa":4.36,"sb":3.78},{"x":30,"ba":0.0118,"bb":0.0168,"va":0.00562,"vb":0.00794,"sa":4.46,"sb":3.69},{"x":34,"ba":0.0098,"bb":0.0201,"va":0.00532,"vb":0.00838,"sa":4.31,"sb":3.86},{"x":38,"ba":0.0116,"bb":0.0174,"va":0.00559,"vb":0.00802,"sa":4.45,"sb":3.72},{"x":42,"ba":0.0106,"bb":0.0192,"va":0.00544,"vb":0.00826,"sa":4.37,"sb":3.81},{"x":46,"ba":0.0124,"bb":0.0165,"va":0.00571,"vb":0.0079,"sa":4.51,"sb":3.68},{"x":50,"ba":0.0102,"bb":0.0189,"va":0.00538,"vb":0.00822,"sa":4.34,"sb":3.8},{"x":54,"ba":0.0112,"bb":0.0159,"va":0.00553,"vb":0.00782,"sa":4.42,"sb":3.65},{"x":58,"ba":0.0098,"bb":0.0186,"va":0.00532,"vb":0.00818,"sa":4.31,"sb":3.78},{"x":62,"ba":0.012,"bb":0.0195,"va":0.00565,"vb":0.0083,"sa":4.48,"sb":3.83},{"x":66,"ba":0.0108,"bb":0.0168,"va":0.00547,"vb":0.00794,"sa":4.39,"sb":3.69},{"x":70,"ba":0.0116,"bb":0.0198,"va":0.00559,"vb":0.00834,"sa":4.45,"sb":3.84},{"x":74,"ba":0.0096,"bb":0.0171,"va":0.00529,"vb":0.00798,"sa":4.3,"sb":3.71},{"x":78,"ba":0.0118,"bb":0.0183,"va":0.00562,"vb":0.00814,"sa":4.46,"sb":3.77},{"x":82,"ba":0.0104,"bb":0.0162,"va":0.00541,"vb":0.00786,"sa":4.36,"sb":3.66},{"x":86,"ba":0.0122,"bb":0.0192,"va":0.00568,"vb":0.00826,"sa":4.49,"sb":3.81},{"x":90,"ba":0.0106,"bb":0.0174,"va":0.00544,"vb":0.00802,"sa":4.37,"sb":3.72},{"x":94,"ba":0.01,"bb":0.0195,"va":0.00535,"vb":0.0083,"sa":4.33,"sb":3.83},{"x":98,"ba":0.0116,"bb":0.0165,"va":0.00559,"vb":0.0079,"sa":4.45,"sb":3.68},{"x":102,"ba":0.0102,"bb":0.0189,"va":0.00538,"vb":0.00822,"sa":4.34,"sb":3.8},{"x":106,"ba":0.0122,"bb":0.0177,"va":0.00568,"vb":0.00806,"sa":4.49,"sb":3.74},{"x":110,"ba":0.0108,"bb":0.0198,"va":0.00547,"vb":0.00834,"sa":4.39,"sb":3.84},{"x":114,"ba":0.0114,"bb":0.0168,"va":0.00556,"vb":0.00794,"sa":4.43,"sb":3.69},{"x":118,"ba":0.0098,"bb":0.0186,"va":0.00532,"vb":0.00818,"sa":4.31,"sb":3.78},{"x":122,"ba":0.0118,"bb":0.0171,"va":0.00562,"vb":0.00798,"sa":4.46,"sb":3.71},{"x":126,"ba":0.0104,"bb":0.0201,"va":0.00541,"vb":0.00838,"sa":4.36,"sb":3.86},{"x":130,"ba":0.0126,"bb":0.0162,"va":0.00574,"vb":0.00786,"sa":4.52,"sb":3.66},{"x":134,"ba":0.01,"bb":0.0192,"va":0.00535,"vb":0.00826,"sa":4.33,"sb":3.81},{"x":138,"ba":0.0112,"bb":0.0174,"va":0.00553,"vb":0.00802,"sa":4.42,"sb":3.72},{"x":142,"ba":0.0102,"bb":0.0195,"va":0.00538,"vb":0.0083,"sa":4.34,"sb":3.83},{"x":146,"ba":0.0122,"bb":0.0159,"va":0.00568,"vb":0.00782,"sa":4.49,"sb":3.65},{"x":150,"ba":0.0106,"bb":0.0189,"va":0.00544,"vb":0.00822,"sa":4.37,"sb":3.8},{"x":154,"ba":0.0116,"bb":0.0168,"va":0.00559,"vb":0.00794,"sa":4.45,"sb":3.69},
    {"x":156,"ba":0.011,"bb":0.019,"va":0.0054,"vb":0.0082,"sa":4.4,"sb":3.75},{"x":158,"ba":0.013,"bb":0.02,"va":0.0055,"vb":0.008,"sa":4.5,"sb":3.8},{"x":160,"ba":0.018,"bb":0.023,"va":0.0054,"vb":0.0078,"sa":4.7,"sb":3.95},{"x":161,"ba":0.022,"bb":0.025,"va":0.0053,"vb":0.0082,"sa":4.85,"sb":4.1},{"x":162,"ba":0.027,"bb":0.028,"va":0.0055,"vb":0.0086,"sa":4.9,"sb":4.25},{"x":163,"ba":0.031,"bb":0.03,"va":0.0058,"vb":0.0084,"sa":4.8,"sb":4.15},{"x":164,"ba":0.032,"bb":0.03,"va":0.006,"vb":0.0081,"sa":4.6,"sb":4},{"x":165,"ba":0.028,"bb":0.026,"va":0.0062,"vb":0.0088,"sa":4.4,"sb":3.8},{"x":166,"ba":0.018,"bb":0.016,"va":0.0057,"vb":0.0093,"sa":4.3,"sb":3.7},{"x":167,"ba":0,"bb":0,"va":0.0056,"vb":0.0088,"sa":4.35,"sb":3.72},{"x":168,"ba":-0.03,"bb":-0.028,"va":0.0062,"vb":0.01,"sa":4.4,"sb":3.75},{"x":169,"ba":-0.07,"bb":-0.065,"va":0.0072,"vb":0.0115,"sa":4.4,"sb":3.74},{"x":170,"ba":-0.12,"bb":-0.11,"va":0.0085,"vb":0.013,"sa":4.38,"sb":3.73}],
  "r5": [{"x":1,"ba":-0.13,"bb":-0.12,"va":0.008,"vb":0.0148,"sa":2.2,"sb":2},{"x":2,"ba":-0.07,"bb":-0.065,"va":0.0068,"vb":0.012,"sa":3.8,"sb":3.3},{"x":3,"ba":0,"bb":0.004,"va":0.0062,"vb":0.0102,"sa":5,"sb":4.3},{"x":4,"ba":0.045,"bb":0.047,"va":0.006,"vb":0.0095,"sa":5.9,"sb":4.9},{"x":5,"ba":0.068,"bb":0.068,"va":0.0059,"vb":0.0092,"sa":6.6,"sb":5.3},{"x":6,"ba":0.075,"bb":0.073,"va":0.0058,"vb":0.009,"sa":7,"sb":5.6},{"x":7,"ba":0.068,"bb":0.066,"va":0.0057,"vb":0.0089,"sa":7.05,"sb":5.6},{"x":8,"ba":0.048,"bb":0.047,"va":0.0057,"vb":0.0088,"sa":6.8,"sb":5.4},{"x":9,"ba":0.027,"bb":0.027,"va":0.0058,"vb":0.0087,"sa":6.4,"sb":5.2},{"x":10,"ba":0.01,"bb":0.013,"va":0.0057,"vb":0.0088,"sa":6.15,"sb":5.1},{"x":11,"ba":0.002,"bb":0.007,"va":0.0056,"vb":0.0087,"sa":6.1,"sb":5.1},{"x":12,"ba":0,"bb":0.005,"va":0.0056,"vb":0.0087,"sa":6.2,"sb":5.15},
    {"x":14,"ba":0.0034,"bb":0.0054,"va":0.00566,"vb":0.00858,"sa":6.34,"sb":5.11},{"x":18,"ba":0.002,"bb":0.007,"va":0.00545,"vb":0.0089,"sa":6.2,"sb":5.23},{"x":22,"ba":0.0042,"bb":0.0048,"va":0.00578,"vb":0.00846,"sa":6.42,"sb":5.06},{"x":26,"ba":0.0024,"bb":0.0064,"va":0.00551,"vb":0.00878,"sa":6.24,"sb":5.18},{"x":30,"ba":0.0038,"bb":0.0052,"va":0.00572,"vb":0.00854,"sa":6.38,"sb":5.09},{"x":34,"ba":0.0018,"bb":0.0074,"va":0.00542,"vb":0.00898,"sa":6.18,"sb":5.26},{"x":38,"ba":0.0036,"bb":0.0056,"va":0.00569,"vb":0.00862,"sa":6.36,"sb":5.12},{"x":42,"ba":0.0026,"bb":0.0068,"va":0.00554,"vb":0.00886,"sa":6.26,"sb":5.21},{"x":46,"ba":0.0044,"bb":0.005,"va":0.00581,"vb":0.0085,"sa":6.44,"sb":5.08},{"x":50,"ba":0.0022,"bb":0.0066,"va":0.00548,"vb":0.00882,"sa":6.22,"sb":5.2},{"x":54,"ba":0.0032,"bb":0.0046,"va":0.00563,"vb":0.00842,"sa":6.32,"sb":5.05},{"x":58,"ba":0.0018,"bb":0.0064,"va":0.00542,"vb":0.00878,"sa":6.18,"sb":5.18},{"x":62,"ba":0.004,"bb":0.007,"va":0.00575,"vb":0.0089,"sa":6.4,"sb":5.23},{"x":66,"ba":0.0028,"bb":0.0052,"va":0.00557,"vb":0.00854,"sa":6.28,"sb":5.09},{"x":70,"ba":0.0036,"bb":0.0072,"va":0.00569,"vb":0.00894,"sa":6.36,"sb":5.24},{"x":74,"ba":0.0016,"bb":0.0054,"va":0.00539,"vb":0.00858,"sa":6.16,"sb":5.11},{"x":78,"ba":0.0038,"bb":0.0062,"va":0.00572,"vb":0.00874,"sa":6.38,"sb":5.17},{"x":82,"ba":0.0024,"bb":0.0048,"va":0.00551,"vb":0.00846,"sa":6.24,"sb":5.06},{"x":86,"ba":0.0042,"bb":0.0068,"va":0.00578,"vb":0.00886,"sa":6.42,"sb":5.21},{"x":90,"ba":0.0026,"bb":0.0056,"va":0.00554,"vb":0.00862,"sa":6.26,"sb":5.12},{"x":94,"ba":0.002,"bb":0.007,"va":0.00545,"vb":0.0089,"sa":6.2,"sb":5.23},{"x":98,"ba":0.0036,"bb":0.005,"va":0.00569,"vb":0.0085,"sa":6.36,"sb":5.08},{"x":102,"ba":0.0022,"bb":0.0066,"va":0.00548,"vb":0.00882,"sa":6.22,"sb":5.2},{"x":106,"ba":0.0042,"bb":0.0058,"va":0.00578,"vb":0.00866,"sa":6.42,"sb":5.14},{"x":110,"ba":0.0028,"bb":0.0072,"va":0.00557,"vb":0.00894,"sa":6.28,"sb":5.24},{"x":114,"ba":0.0034,"bb":0.0052,"va":0.00566,"vb":0.00854,"sa":6.34,"sb":5.09},{"x":118,"ba":0.0018,"bb":0.0064,"va":0.00542,"vb":0.00878,"sa":6.18,"sb":5.18},{"x":122,"ba":0.0038,"bb":0.0054,"va":0.00572,"vb":0.00858,"sa":6.38,"sb":5.11},{"x":126,"ba":0.0024,"bb":0.0074,"va":0.00551,"vb":0.00898,"sa":6.24,"sb":5.26},{"x":130,"ba":0.0046,"bb":0.0048,"va":0.00584,"vb":0.00846,"sa":6.46,"sb":5.06},{"x":134,"ba":0.002,"bb":0.0068,"va":0.00545,"vb":0.00886,"sa":6.2,"sb":5.21},{"x":138,"ba":0.0032,"bb":0.0056,"va":0.00563,"vb":0.00862,"sa":6.32,"sb":5.12},{"x":142,"ba":0.0022,"bb":0.007,"va":0.00548,"vb":0.0089,"sa":6.22,"sb":5.23},{"x":146,"ba":0.0042,"bb":0.0046,"va":0.00578,"vb":0.00842,"sa":6.42,"sb":5.05},{"x":150,"ba":0.0026,"bb":0.0066,"va":0.00554,"vb":0.00882,"sa":6.26,"sb":5.2},{"x":154,"ba":0.0036,"bb":0.0052,"va":0.00569,"vb":0.00854,"sa":6.36,"sb":5.09},
    {"x":156,"ba":0.003,"bb":0.006,"va":0.0056,"vb":0.0087,"sa":6.3,"sb":5.1},{"x":158,"ba":0.006,"bb":0.008,"va":0.0055,"vb":0.0086,"sa":6.4,"sb":5.2},{"x":160,"ba":0.016,"bb":0.017,"va":0.0058,"vb":0.009,"sa":6.6,"sb":5.35},{"x":161,"ba":0.026,"bb":0.027,"va":0.006,"vb":0.0094,"sa":6.85,"sb":5.5},{"x":162,"ba":0.04,"bb":0.041,"va":0.0058,"vb":0.0098,"sa":7.05,"sb":5.6},{"x":163,"ba":0.053,"bb":0.053,"va":0.0055,"vb":0.0093,"sa":6.9,"sb":5.5},{"x":164,"ba":0.06,"bb":0.059,"va":0.0056,"vb":0.0088,"sa":6.5,"sb":5.25},{"x":165,"ba":0.055,"bb":0.054,"va":0.0062,"vb":0.0095,"sa":6.1,"sb":5},{"x":166,"ba":0.036,"bb":0.035,"va":0.0072,"vb":0.0102,"sa":5.9,"sb":4.9},{"x":167,"ba":0.005,"bb":0.004,"va":0.0062,"vb":0.0094,"sa":5.9,"sb":4.9},{"x":168,"ba":-0.04,"bb":-0.04,"va":0.0045,"vb":0.0085,"sa":6,"sb":5},{"x":169,"ba":-0.09,"bb":-0.09,"va":0.0035,"vb":0.009,"sa":6.1,"sb":5},{"x":170,"ba":-0.14,"bb":-0.14,"va":0.005,"vb":0.0098,"sa":6.1,"sb":5}]
},
"spacing": 0,
"hconcat": [
 {"vconcat": [
  {"width":179,"height":83,"data":{"name":"tf"},"title":"True function","mark":{"type":"line","clip":true},
   "encoding":{"x":{"field":"x","type":"quantitative","scale":{"domain":[0,170],"nice":false,"zero":false},"axis":{"values":[20,60,100,140],"labels":false,"title":null}},
     "y":{"field":"y","type":"quantitative","scale":{"domain":[-20,-16],"nice":false,"zero":false},"axis":{"values":[-19,-18,-17],"format":"~r","title":"Trend"}}}},
  {"width":179,"height":83,"data":{"name":"am"},"mark":{"type":"line","clip":true},
   "encoding":{"x":{"field":"x","type":"quantitative","scale":{"domain":[0,170],"nice":false,"zero":false},"axis":{"values":[20,60,100,140],"labels":false,"title":null}},
     "y":{"field":"a1","type":"quantitative","scale":{"domain":[0,1.4],"nice":false,"zero":false},"axis":{"values":[0.2,0.6,1],"format":"~r","title":"Am 1"}}}},
  {"width":179,"height":83,"data":{"name":"am"},"mark":{"type":"line","clip":true},
   "encoding":{"x":{"field":"x","type":"quantitative","scale":{"domain":[0,170],"nice":false,"zero":false},"axis":{"values":[20,60,100,140],"labels":false,"title":null}},
     "y":{"field":"a2","type":"quantitative","scale":{"domain":[0,1.4],"nice":false,"zero":false},"axis":{"values":[0.2,0.6,1],"format":"~r","title":"Am 2"}}}},
  {"width":179,"height":83,"data":{"name":"am"},"mark":{"type":"line","clip":true},
   "encoding":{"x":{"field":"x","type":"quantitative","scale":{"domain":[0,170],"nice":false,"zero":false},"axis":{"values":[20,60,100,140],"labels":false,"title":null}},
     "y":{"field":"a3","type":"quantitative","scale":{"domain":[0,1.4],"nice":false,"zero":false},"axis":{"values":[0.2,0.6,1],"format":"~r","title":"Am 3"}}}},
  {"width":179,"height":83,"data":{"name":"am"},"mark":{"type":"line","clip":true},
   "encoding":{"x":{"field":"x","type":"quantitative","scale":{"domain":[0,170],"nice":false,"zero":false},"axis":{"values":[20,60,100,140],"labels":true,"title":null}},
     "y":{"field":"a4","type":"quantitative","scale":{"domain":[0,1.4],"nice":false,"zero":false},"axis":{"values":[0.2,0.6,1],"format":"~r","title":"Am 4"}}}}
 ], "spacing": 5.5, "bounds": "flush"},
 {"vconcat": [
  {"width":179,"height":83,"data":{"name":"tb"},"title":"Bias","mark":{"type":"line","clip":true,"strokeWidth":1.2},
   "encoding":{"x":{"field":"x","type":"quantitative","scale":{"domain":[0,170],"nice":false,"zero":false},"axis":{"values":[20,60,100,140],"labels":false,"title":null}},
     "y":{"field":"y","type":"quantitative","scale":{"domain":[-0.4,0.4],"nice":false,"zero":false},"axis":{"values":[-0.2,0,0.2],"format":"~r","title":null,"minExtent":49}},
     "detail":{"field":"s"}}},
  {"width":179,"height":83,"data":{"name":"r2"},"transform":[{"fold":["ba","bb"],"as":["k","v"]}],"mark":{"type":"line","clip":true},
   "encoding":{"x":{"field":"x","type":"quantitative","scale":{"domain":[0,170],"nice":false,"zero":false},"axis":{"values":[20,60,100,140],"labels":false,"title":null}},
     "y":{"field":"v","type":"quantitative","scale":{"domain":[-0.1,0.1],"nice":false,"zero":false},"axis":{"values":[-0.05,0,0.05],"format":"~r","title":null,"minExtent":49}},
     "strokeDash":{"field":"k","type":"nominal","scale":{"domain":["ba","bb","va","vb","sa","sb"],"range":[[1,0],[5,2],[1,0],[5,2],[1,0],[5,2]]},"legend":null}}},
  {"width":179,"height":83,"data":{"name":"r3"},"transform":[{"fold":["ba","bb"],"as":["k","v"]}],"mark":{"type":"line","clip":true},
   "encoding":{"x":{"field":"x","type":"quantitative","scale":{"domain":[0,170],"nice":false,"zero":false},"axis":{"values":[20,60,100,140],"labels":false,"title":null}},
     "y":{"field":"v","type":"quantitative","scale":{"domain":[-0.1,0.1],"nice":false,"zero":false},"axis":{"values":[-0.05,0,0.05],"format":"~r","title":null,"minExtent":49}},
     "strokeDash":{"field":"k","type":"nominal","scale":{"domain":["ba","bb","va","vb","sa","sb"],"range":[[1,0],[5,2],[1,0],[5,2],[1,0],[5,2]]},"legend":null}}},
  {"width":179,"height":83,"data":{"name":"r4"},"transform":[{"fold":["ba","bb"],"as":["k","v"]}],"mark":{"type":"line","clip":true},
   "encoding":{"x":{"field":"x","type":"quantitative","scale":{"domain":[0,170],"nice":false,"zero":false},"axis":{"values":[20,60,100,140],"labels":false,"title":null}},
     "y":{"field":"v","type":"quantitative","scale":{"domain":[-0.1,0.1],"nice":false,"zero":false},"axis":{"values":[-0.05,0,0.05],"format":"~r","title":null,"minExtent":49}},
     "strokeDash":{"field":"k","type":"nominal","scale":{"domain":["ba","bb","va","vb","sa","sb"],"range":[[1,0],[5,2],[1,0],[5,2],[1,0],[5,2]]},"legend":null}}},
  {"width":179,"height":83,"data":{"name":"r5"},"transform":[{"fold":["ba","bb"],"as":["k","v"]}],"mark":{"type":"line","clip":true},
   "encoding":{"x":{"field":"x","type":"quantitative","scale":{"domain":[0,170],"nice":false,"zero":false},"axis":{"values":[20,60,100,140],"labels":true,"title":null}},
     "y":{"field":"v","type":"quantitative","scale":{"domain":[-0.1,0.1],"nice":false,"zero":false},"axis":{"values":[-0.05,0,0.05],"format":"~r","title":null,"minExtent":49}},
     "strokeDash":{"field":"k","type":"nominal","scale":{"domain":["ba","bb","va","vb","sa","sb"],"range":[[1,0],[5,2],[1,0],[5,2],[1,0],[5,2]]},"legend":null}}}
 ], "spacing": 5.5, "bounds": "flush"},
 {"vconcat": [
  {"width":179,"height":83,"data":{"name":"tr"},"title":"Variance","transform":[{"fold":["vu","vl"],"as":["k","v"]}],"mark":{"type":"line","clip":true,"strokeWidth":1.3},
   "encoding":{"x":{"field":"x","type":"quantitative","scale":{"domain":[0,170],"nice":false,"zero":false},"axis":{"values":[20,60,100,140],"labels":false,"title":null}},
     "y":{"field":"v","type":"quantitative","scale":{"domain":[0.01,0.05],"nice":false,"zero":false},"axis":{"values":[0.02,0.03,0.04],"format":"~r","title":null,"minExtent":50}},
     "detail":{"field":"k"}}},
  {"width":179,"height":83,"data":{"name":"r2"},"transform":[{"fold":["va","vb"],"as":["k","v"]}],"mark":{"type":"line","clip":true},
   "encoding":{"x":{"field":"x","type":"quantitative","scale":{"domain":[0,170],"nice":false,"zero":false},"axis":{"values":[20,60,100,140],"labels":false,"title":null}},
     "y":{"field":"v","type":"quantitative","scale":{"domain":[0.001,0.02],"nice":false,"zero":false},"axis":{"values":[0.005,0.01,0.015],"format":"~r","title":null,"minExtent":50}},
     "strokeDash":{"field":"k","type":"nominal","scale":{"domain":["ba","bb","va","vb","sa","sb"],"range":[[1,0],[5,2],[1,0],[5,2],[1,0],[5,2]]},"legend":null}}},
  {"width":179,"height":83,"data":{"name":"r3"},"transform":[{"fold":["va","vb"],"as":["k","v"]}],"mark":{"type":"line","clip":true},
   "encoding":{"x":{"field":"x","type":"quantitative","scale":{"domain":[0,170],"nice":false,"zero":false},"axis":{"values":[20,60,100,140],"labels":false,"title":null}},
     "y":{"field":"v","type":"quantitative","scale":{"domain":[0.001,0.02],"nice":false,"zero":false},"axis":{"values":[0.005,0.01,0.015],"format":"~r","title":null,"minExtent":50}},
     "strokeDash":{"field":"k","type":"nominal","scale":{"domain":["ba","bb","va","vb","sa","sb"],"range":[[1,0],[5,2],[1,0],[5,2],[1,0],[5,2]]},"legend":null}}},
  {"width":179,"height":83,"data":{"name":"r4"},"transform":[{"fold":["va","vb"],"as":["k","v"]}],"mark":{"type":"line","clip":true},
   "encoding":{"x":{"field":"x","type":"quantitative","scale":{"domain":[0,170],"nice":false,"zero":false},"axis":{"values":[20,60,100,140],"labels":false,"title":null}},
     "y":{"field":"v","type":"quantitative","scale":{"domain":[0.001,0.02],"nice":false,"zero":false},"axis":{"values":[0.005,0.01,0.015],"format":"~r","title":null,"minExtent":50}},
     "strokeDash":{"field":"k","type":"nominal","scale":{"domain":["ba","bb","va","vb","sa","sb"],"range":[[1,0],[5,2],[1,0],[5,2],[1,0],[5,2]]},"legend":null}}},
  {"width":179,"height":83,"data":{"name":"r5"},"transform":[{"fold":["va","vb"],"as":["k","v"]}],"mark":{"type":"line","clip":true},
   "encoding":{"x":{"field":"x","type":"quantitative","scale":{"domain":[0,170],"nice":false,"zero":false},"axis":{"values":[20,60,100,140],"labels":true,"title":null}},
     "y":{"field":"v","type":"quantitative","scale":{"domain":[0.001,0.02],"nice":false,"zero":false},"axis":{"values":[0.005,0.01,0.015],"format":"~r","title":null,"minExtent":50}},
     "strokeDash":{"field":"k","type":"nominal","scale":{"domain":["ba","bb","va","vb","sa","sb"],"range":[[1,0],[5,2],[1,0],[5,2],[1,0],[5,2]]},"legend":null}}}
 ], "spacing": 5.5, "bounds": "flush"},
 {"vconcat": [
  {"width":174,"height":83,"data":{"name":"tr"},"title":"SNR","transform":[{"fold":["su","sl"],"as":["k","v"]}],"mark":{"type":"line","clip":true,"strokeWidth":1.3},
   "encoding":{"x":{"field":"x","type":"quantitative","scale":{"domain":[0,165.25],"nice":false,"zero":false},"axis":{"values":[20,60,100,140],"labels":false,"title":null}},
     "y":{"field":"v","type":"quantitative","scale":{"domain":[80,160],"nice":false,"zero":false},"axis":{"values":[100,120,140],"format":"~r","title":null,"minExtent":36}},
     "detail":{"field":"k"}}},
  {"width":174,"height":83,"data":{"name":"r2"},"transform":[{"fold":["sa","sb"],"as":["k","v"]}],"mark":{"type":"line","clip":true},
   "encoding":{"x":{"field":"x","type":"quantitative","scale":{"domain":[0,165.25],"nice":false,"zero":false},"axis":{"values":[20,60,100,140],"labels":false,"title":null}},
     "y":{"field":"v","type":"quantitative","scale":{"domain":[1,20],"nice":false,"zero":false},"axis":{"values":[5,10,15],"format":"~r","title":null,"minExtent":36}},
     "strokeDash":{"field":"k","type":"nominal","scale":{"domain":["ba","bb","va","vb","sa","sb"],"range":[[1,0],[5,2],[1,0],[5,2],[1,0],[5,2]]},"legend":null}}},
  {"width":174,"height":83,"data":{"name":"r3"},"transform":[{"fold":["sa","sb"],"as":["k","v"]}],"mark":{"type":"line","clip":true},
   "encoding":{"x":{"field":"x","type":"quantitative","scale":{"domain":[0,165.25],"nice":false,"zero":false},"axis":{"values":[20,60,100,140],"labels":false,"title":null}},
     "y":{"field":"v","type":"quantitative","scale":{"domain":[1,20],"nice":false,"zero":false},"axis":{"values":[5,10,15],"format":"~r","title":null,"minExtent":36}},
     "strokeDash":{"field":"k","type":"nominal","scale":{"domain":["ba","bb","va","vb","sa","sb"],"range":[[1,0],[5,2],[1,0],[5,2],[1,0],[5,2]]},"legend":null}}},
  {"width":174,"height":83,"data":{"name":"r4"},"transform":[{"fold":["sa","sb"],"as":["k","v"]}],"mark":{"type":"line","clip":true},
   "encoding":{"x":{"field":"x","type":"quantitative","scale":{"domain":[0,165.25],"nice":false,"zero":false},"axis":{"values":[20,60,100,140],"labels":false,"title":null}},
     "y":{"field":"v","type":"quantitative","scale":{"domain":[1,20],"nice":false,"zero":false},"axis":{"values":[5,10,15],"format":"~r","title":null,"minExtent":36}},
     "strokeDash":{"field":"k","type":"nominal","scale":{"domain":["ba","bb","va","vb","sa","sb"],"range":[[1,0],[5,2],[1,0],[5,2],[1,0],[5,2]]},"legend":null}}},
  {"width":174,"height":83,"data":{"name":"r5"},"transform":[{"fold":["sa","sb"],"as":["k","v"]}],"mark":{"type":"line","clip":true},
   "encoding":{"x":{"field":"x","type":"quantitative","scale":{"domain":[0,165.25],"nice":false,"zero":false},"axis":{"values":[20,60,100,140],"labels":true,"title":null}},
     "y":{"field":"v","type":"quantitative","scale":{"domain":[1,20],"nice":false,"zero":false},"axis":{"values":[5,10,15],"format":"~r","title":null,"minExtent":36}},
     "strokeDash":{"field":"k","type":"nominal","scale":{"domain":["ba","bb","va","vb","sa","sb"],"range":[[1,0],[5,2],[1,0],[5,2],[1,0],[5,2]]},"legend":null}}}
 ], "spacing": 5.5, "bounds": "flush"}
]
}
